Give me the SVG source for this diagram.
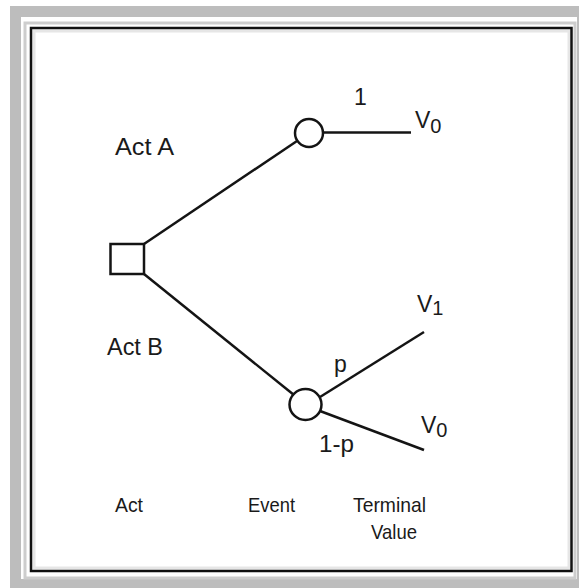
<svg xmlns="http://www.w3.org/2000/svg" width="579" height="588" viewBox="0 0 579 588">
<style>
.ln{stroke:#141414;stroke-width:2.5;fill:none;stroke-linecap:butt}
.nd{stroke:#141414;stroke-width:2.5;fill:#fff}
text{font-family:"Liberation Sans",Arial,sans-serif;fill:#1a1a1a}
.lb{font-size:23px}
.ax{font-size:21px}
.sub{font-size:20px}
</style>
<rect width="579" height="588" fill="#fff"/>
<g id="frame">
<rect x="15.5" y="11.5" width="567" height="573" fill="none" stroke="#bdbdbd" stroke-width="11"/>
<rect x="25" y="23" width="550" height="555" fill="none" stroke="#cdcdcd" stroke-width="3"/>
<rect x="34" y="31" width="535" height="537" fill="none" stroke="#e6e6e6" stroke-width="3"/>
<rect x="31" y="28" width="540.5" height="543" fill="none" stroke="#111" stroke-width="2.5"/>
</g>
<g id="connectors">
<line class="ln" x1="144" y1="244" x2="297" y2="141"/>
<line class="ln" x1="323" y1="132.5" x2="411" y2="132.5"/>
<line class="ln" x1="144" y1="274" x2="294" y2="395"/>
<line class="ln" x1="320" y1="397" x2="424" y2="332"/>
<line class="ln" x1="320" y1="411" x2="424" y2="450"/>
</g>
<g id="decision">
<rect class="nd" x="110.5" y="244" width="33.5" height="30"/>
</g>
<g id="chanceA">
<circle class="nd" cx="309" cy="133" r="14"/>
</g>
<g id="chanceB">
<ellipse class="nd" cx="305.5" cy="404.5" rx="16" ry="15.5"/>
</g>
<g id="labels">
<text class="lb" x="115" y="155" textLength="59" lengthAdjust="spacingAndGlyphs">Act A</text>
<text class="lb" x="107" y="355" textLength="56" lengthAdjust="spacingAndGlyphs">Act B</text>
<text class="lb" x="354" y="105">1</text>
<text class="lb" x="334" y="372">p</text>
<text class="lb" x="319" y="452" textLength="35" lengthAdjust="spacingAndGlyphs">1-p</text>
<text class="lb" x="415" y="128">V<tspan class="sub" dy="5">0</tspan></text>
<text class="lb" x="417" y="312">V<tspan class="sub" dy="3">1</tspan></text>
<text class="lb" x="421" y="433">V<tspan class="sub" dy="4">0</tspan></text>
<text class="ax" x="115" y="512" textLength="28" lengthAdjust="spacingAndGlyphs">Act</text>
<text class="ax" x="248" y="512" textLength="47" lengthAdjust="spacingAndGlyphs">Event</text>
<text class="ax" x="353" y="512" textLength="73" lengthAdjust="spacingAndGlyphs">Terminal</text>
<text class="ax" x="371" y="539" textLength="46" lengthAdjust="spacingAndGlyphs">Value</text>
</g>
</svg>
